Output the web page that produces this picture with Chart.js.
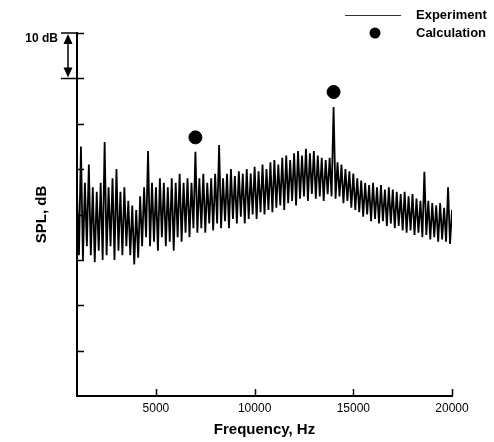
<!DOCTYPE html>
<html lang="en">
<head>
<meta charset="UTF-8">
<title>SPL spectrum</title>
<style>
    body { margin: 0; background: #fff; }
    canvas { display: block; }
</style>
<script src="https://cdn.jsdelivr.net/npm/chart.js"></script>
</head>
<body>
<canvas id="splChart" width="494" height="442"></canvas>
<script>
    // Frequency grid of the measured spectrum, Hz
    const freqs = [
        1000, 1100, 1200, 1300, 1400, 1500, 1600, 1700, 1800, 1900,
        2000, 2100, 2200, 2300, 2400, 2500, 2600, 2700, 2800, 2900,
        3000, 3100, 3200, 3300, 3400, 3500, 3600, 3700, 3800, 3900,
        4000, 4100, 4200, 4300, 4400, 4500, 4600, 4700, 4800, 4900,
        5000, 5100, 5200, 5300, 5400, 5500, 5600, 5700, 5800, 5900,
        6000, 6100, 6200, 6300, 6400, 6500, 6600, 6700, 6800, 6900,
        7000, 7100, 7200, 7300, 7400, 7500, 7600, 7700, 7800, 7900,
        8000, 8100, 8200, 8300, 8400, 8500, 8600, 8700, 8800, 8900,
        9000, 9100, 9200, 9300, 9400, 9500, 9600, 9700, 9800, 9900,
        10000, 10100, 10200, 10300, 10400, 10500, 10600, 10700, 10800, 10900,
        11000, 11100, 11200, 11300, 11400, 11500, 11600, 11700, 11800, 11900,
        12000, 12100, 12200, 12300, 12400, 12500, 12600, 12700, 12800, 12900,
        13000, 13100, 13200, 13300, 13400, 13500, 13600, 13700, 13800, 13900,
        14000, 14100, 14200, 14300, 14400, 14500, 14600, 14700, 14800, 14900,
        15000, 15100, 15200, 15300, 15400, 15500, 15600, 15700, 15800, 15900,
        16000, 16100, 16200, 16300, 16400, 16500, 16600, 16700, 16800, 16900,
        17000, 17100, 17200, 17300, 17400, 17500, 17600, 17700, 17800, 17900,
        18000, 18100, 18200, 18300, 18400, 18500, 18600, 18700, 18800, 18900,
        19000, 19100, 19200, 19300, 19400, 19500, 19600, 19700, 19800, 19900,
        20000
    ];

    const experiment = [
        45, 31, 55, 30, 47, 33, 51, 31, 46, 29.5,
        45, 32, 47, 30, 56, 31, 46, 33, 48, 30,
        50, 32, 45, 31, 46, 33, 43, 31, 42, 29,
        41, 30.5, 44, 33, 46, 35, 54, 33, 47, 34,
        46, 32, 48, 35, 47, 33, 46, 34, 48, 32,
        47, 35, 49, 34, 47, 36, 48, 35, 47, 37,
        53.8, 36, 48, 37, 49, 36, 47, 38, 48, 36.5,
        49, 38, 55.3, 37, 48, 38.5, 49, 37, 50, 39,
        48.5, 38, 49.5, 39.5, 49, 38, 50, 39, 49, 40,
        50.5, 39, 49.5, 40.5, 51, 40, 50, 41, 51.5, 40.5,
        52, 41.5, 51, 42, 52.5, 41, 53, 42.5, 52, 43,
        53.5, 42, 54, 43.5, 53, 44, 54.5, 43, 53.5, 44.5,
        54, 43.5, 53, 44, 52.5, 43, 52, 44.5, 52.5, 44,
        63.7, 43.5, 51.5, 44, 51, 42.5, 50, 43, 49.5, 41.5,
        49, 41, 48, 40.5, 47.5, 39.5, 47, 40, 46.5, 38.5,
        47, 39, 46, 38, 46.5, 38.5, 45.5, 37.5, 46, 38,
        45.5, 37, 45, 37.5, 44.5, 36.5, 45, 36, 44, 36.5,
        44.5, 35.5, 43.5, 36, 43, 35, 49.4, 35.5, 43, 34.5,
        42.5, 35, 42, 34, 42.5, 34.5, 41.5, 34, 46, 33.5,
        41
    ];

    // Calculated tones
    const calcFreqs = [7000, 14000];
    const calcSpl = [57, 67];

    const xTicks = [5000, 10000, 15000, 20000];
    const yTicks = [0, 10, 20, 30, 40, 50, 60, 70, 80];

    // inward ticks, 10 dB scale bar and the legend box
    const decorations = {
        id: 'decorations',
        afterDraw(chart) {
            const ctx = chart.ctx;
            const area = chart.chartArea;
            const xs = chart.scales.x;
            const ys = chart.scales.y;
            ctx.save();
            ctx.strokeStyle = '#000';
            ctx.lineWidth = 1.5;
            ctx.beginPath();
            yTicks.forEach(function(v) {
                if (v === 0) return;
                const py = Math.round(ys.getPixelForValue(v)) + 0.5;
                ctx.moveTo(area.left, py);
                ctx.lineTo(area.left + 7, py);
            });
            xTicks.forEach(function(v) {
                const px = Math.round(xs.getPixelForValue(v)) + 0.5;
                ctx.moveTo(px, area.bottom);
                ctx.lineTo(px, area.bottom - 7);
            });
            ctx.stroke();

            // 10 dB bar
            const yTop = ys.getPixelForValue(80);
            const yBot = ys.getPixelForValue(70);
            const ax = 68;
            ctx.lineWidth = 1.5;
            ctx.beginPath();
            ctx.moveTo(61, yTop); ctx.lineTo(area.left, yTop);
            ctx.moveTo(61, yBot); ctx.lineTo(area.left, yBot);
            ctx.moveTo(ax, yTop + 6); ctx.lineTo(ax, yBot - 6);
            ctx.stroke();
            ctx.fillStyle = '#000';
            ctx.beginPath();
            ctx.moveTo(ax, yTop + 1); ctx.lineTo(ax - 4.5, yTop + 11); ctx.lineTo(ax + 4.5, yTop + 11);
            ctx.closePath();
            ctx.moveTo(ax, yBot - 1); ctx.lineTo(ax - 4.5, yBot - 11); ctx.lineTo(ax + 4.5, yBot - 11);
            ctx.closePath();
            ctx.fill();
            ctx.font = 'bold 12px Arial';
            ctx.textAlign = 'right';
            ctx.textBaseline = 'alphabetic';
            ctx.fillText('10 dB', 58, 42);

            // legend
            ctx.lineWidth = 1;
            ctx.strokeStyle = '#333';
            ctx.beginPath();
            ctx.moveTo(345, 15.5);
            ctx.lineTo(401, 15.5);
            ctx.stroke();
            ctx.beginPath();
            ctx.arc(375, 33, 5.5, 0, Math.PI * 2);
            ctx.fill();
            ctx.font = 'bold 13px Arial';
            ctx.textAlign = 'left';
            ctx.textBaseline = 'middle';
            ctx.fillText('Experiment', 416, 15);
            ctx.fillText('Calculation', 416, 33);
            ctx.restore();
        }
    };

    const ctx = document.getElementById('splChart').getContext('2d');
    const splChart = new Chart(ctx, {
        type: 'scatter',
        data: {
            datasets: [
                {
                    label: 'Experiment',
                    data: freqs.map(function(f, i) { return { x: f, y: experiment[i] }; }),
                    showLine: true,
                    borderColor: '#000',
                    borderWidth: 1.8,
                    pointRadius: 0,
                    tension: 0
                },
                {
                    label: 'Calculation',
                    data: calcFreqs.map(function(f, i) { return { x: f, y: calcSpl[i] }; }),
                    showLine: false,
                    backgroundColor: '#000',
                    borderColor: '#000',
                    pointRadius: 6.5
                }
            ]
        },
        options: {
            responsive: false,
            animation: false,
            layout: { padding: { top: 33, right: 42, left: 0, bottom: 0 } },
            plugins: {
                legend: { display: false },
                tooltip: { enabled: false }
            },
            scales: {
                x: {
                    type: 'linear',
                    min: 1000,
                    max: 20000,
                    afterBuildTicks: function(scale) {
                        scale.ticks = xTicks.map(function(v) { return { value: v }; });
                    },
                    afterFit: function(scale) { scale.height = 46; },
                    grid: { display: false, drawTicks: false },
                    border: { display: true, color: '#000', width: 2 },
                    ticks: {
                        color: '#000',
                        padding: 5,
                        font: { family: 'Arial', size: 12 },
                        maxRotation: 0,
                        callback: function(v) { return String(v); }
                    },
                    title: {
                        display: true,
                        text: 'Frequency, Hz',
                        color: '#000',
                        font: { family: 'Arial', size: 15, weight: 'bold' },
                        padding: { top: 0, bottom: 3 }
                    }
                },
                y: {
                    min: 0,
                    max: 80,
                    afterBuildTicks: function(scale) {
                        scale.ticks = yTicks.map(function(v) { return { value: v }; });
                    },
                    afterFit: function(scale) { scale.width = 77; },
                    grid: { display: false, drawTicks: false },
                    border: { display: true, color: '#000', width: 2 },
                    ticks: { display: false },
                    title: {
                        display: true,
                        text: 'SPL, dB',
                        color: '#000',
                        font: { family: 'Arial', size: 15, weight: 'bold' },
                        padding: { top: 33, bottom: 0 }
                    }
                }
            }
        },
        plugins: [decorations]
    });
</script>
</body>
</html>
